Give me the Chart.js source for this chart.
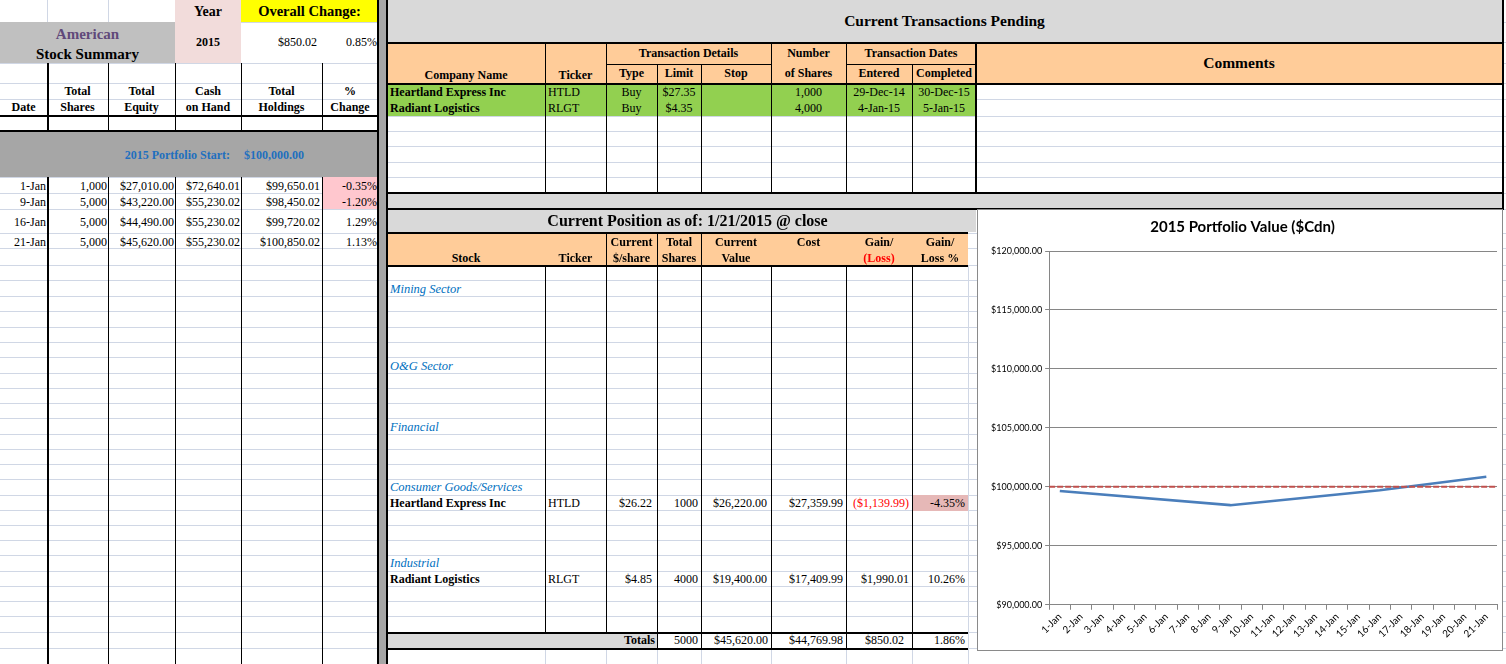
<!DOCTYPE html>
<html>
<head>
<meta charset="utf-8">
<script src="https://cdn.jsdelivr.net/npm/chart.js@4.4.1/dist/chart.umd.min.js"></script>
<style>
  html, body { margin: 0; padding: 0; background: #fff; }
  #sheet { position: relative; width: 1506px; height: 664px; overflow: hidden;
           font-family: "Liberation Serif", "Times New Roman", serif; font-size: 12px; color: #000; }
  .box { position: absolute; box-sizing: border-box; }
  .t { position: absolute; white-space: nowrap; height: 20px; line-height: 20px; }
  .b { font-weight: bold; }
  .h12 { font-size: 12px; font-weight: bold; }
  .sector { font-size: 12.5px; font-style: italic; color: #0070c0; }
  #chartBox { position: absolute; left: 977px; top: 209px; width: 526px; height: 442px;
              box-sizing: border-box; border: 1px solid #8a8a8a; background: #fff; }
</style>
</head>
<body>
<div id="sheet">
  <div id="chartBox"><canvas id="myChart"></canvas></div>
</div>
<script>
'use strict';

// stock summary (left table)
const dates = ['1-Jan', '9-Jan', '16-Jan', '21-Jan'];
const totalShares = [1000, 5000, 5000, 5000];
const totalEquity = [27010.00, 43220.00, 44490.00, 45620.00];
const cashOnHand = [72640.01, 55230.02, 55230.02, 55230.02];
const totalHoldings = [99650.01, 98450.02, 99720.02, 100850.02];
const pctChange = [-0.35, -1.20, 1.29, 1.13];
const portfolioStart = 100000;
const overallChange = 850.02;
const overallPct = 0.85;

// transactions pending
const txCompany = ['Heartland Express Inc', 'Radiant Logistics'];
const txTicker = ['HTLD', 'RLGT'];
const txType = ['Buy', 'Buy'];
const txLimit = [27.35, 4.35];
const txShares = [1000, 4000];
const txEntered = ['29-Dec-14', '4-Jan-15'];
const txCompleted = ['30-Dec-15', '5-Jan-15'];

// current position
const sectors = ['Mining Sector', 'O&G Sector', 'Financial', 'Consumer Goods/Services', 'Industrial'];
const stockNames = ['Heartland Express Inc', 'Radiant Logistics'];
const stockTickers = ['HTLD', 'RLGT'];
const pricePerShare = [26.22, 4.85];
const sharesHeld = [1000, 4000];
const currentValue = [26220.00, 19400.00];
const costBasis = [27359.99, 17409.99];
const gainLoss = [-1139.99, 1990.01];
const gainLossPct = [-4.35, 10.26];
const totalsRow = { shares: 5000, value: 45620.00, cost: 44769.98, gain: 850.02, pct: 1.86 };

// chart axis
const axisDays = ['1-Jan', '2-Jan', '3-Jan', '4-Jan', '5-Jan', '6-Jan', '7-Jan', '8-Jan', '9-Jan', '10-Jan',
  '11-Jan', '12-Jan', '13-Jan', '14-Jan', '15-Jan', '16-Jan', '17-Jan', '18-Jan', '19-Jan', '20-Jan', '21-Jan'];
const yMin = 90000, yMax = 120000, yStep = 5000;

function money(v) {
  return '$' + v.toLocaleString('en-US', { minimumFractionDigits: 2, maximumFractionDigits: 2 });
}
function moneyParen(v) {
  return v < 0 ? '(' + money(-v) + ')' : money(v);
}
function pct(v) { return v.toFixed(2) + '%'; }

const sheet = document.getElementById('sheet');
const chartBox = document.getElementById('chartBox');

function box(x, y, w, h, bg) {
  var d = document.createElement('div');
  d.className = 'box';
  d.style.cssText = 'left:' + x + 'px;top:' + y + 'px;width:' + w + 'px;height:' + h + 'px;background:' + bg;
  sheet.insertBefore(d, chartBox);
  return d;
}
function hline(x1, x2, y, w, c) { return box(x1, y, x2 - x1, w || 1, c || '#000'); }
function vline(x, y1, y2, w, c) { return box(x, y1, w || 1, y2 - y1, c || '#000'); }
function T(str, x1, x2, yc, cls, align, color) {
  var d = document.createElement('div');
  d.className = 't ' + (cls || '');
  d.textContent = str;
  d.style.left = x1 + 'px';
  d.style.width = (x2 - x1) + 'px';
  d.style.top = (yc - 10) + 'px';
  d.style.textAlign = align || 'center';
  if (color) d.style.color = color;
  sheet.appendChild(d);
  return d;
}

// light sheet gridlines
var rowY = [22, 42, 63, 83, 99, 116, 131, 146, 162, 177, 193, 209, 233, 248, 265, 280, 296, 311, 327, 342,
  357, 373, 388, 403, 418, 434, 449, 464, 479, 495, 510, 525, 540, 555, 571, 586, 601, 616, 632, 648];
rowY.forEach(function (y) { hline(0, 1506, y, 1, '#d0d7e5'); });
vline(47, 0, 22, 1, '#d0d7e5');
vline(108, 0, 22, 1, '#d0d7e5');
vline(968, 266, 664, 1, '#d0d7e5');
[545, 606, 657, 701, 771, 846, 912].forEach(function (x) { vline(x, 648, 664, 1, '#d0d7e5'); });

// ---- left: stock summary ----
box(175, 0, 66, 63, '#f2dcdb');
box(241, 0, 137, 22, '#ffff00');
box(0, 22, 175, 41, '#c0c0c0');
box(241, 23, 137, 40, '#fff');
box(0, 132, 378, 45, '#a6a6a6');
var leftRows = [[177, 193], [193, 209], [209, 233], [233, 248]];
pctChange.forEach(function (v, i) {
  if (v < 0) box(322, leftRows[i][0], 56, leftRows[i][1] - leftRows[i][0], '#ffc7ce');
});
vline(47, 63, 131, 2); vline(47, 177, 664, 2);
[108, 175, 241, 322].forEach(function (x) { vline(x, 63, 131); vline(x, 177, 664); });
hline(0, 378, 115, 2);
hline(0, 378, 130, 2);

T('Year', 175, 241, 12, 'b', 'center').style.fontSize = '14px';
T('Overall Change:', 241, 378, 11, 'b', 'center').style.fontSize = '14.5px';
T('American', 0, 175, 34, 'b', 'center', '#60497a').style.fontSize = '15px';
T('Stock Summary', 0, 175, 54, 'b', 'center').style.fontSize = '15px';
T('2015', 175, 241, 42, 'h12');
T(money(overallChange), 241, 317, 42, '', 'right');
T(pct(overallPct), 322, 377, 42, '', 'right');

T('Date', 0, 47, 107, 'h12');
[['Total', 'Shares', 47, 108], ['Total', 'Equity', 108, 175], ['Cash', 'on Hand', 175, 241],
 ['Total', 'Holdings', 241, 322], ['%', 'Change', 322, 378]].forEach(function (h) {
  T(h[0], h[2], h[3], 91, 'h12');
  T(h[1], h[2], h[3], 107, 'h12');
});
T('2015 Portfolio Start:', 110, 230, 155, 'b', 'right', '#1f6fbf');
T(money(portfolioStart), 244, 320, 155, 'b', 'left', '#1f6fbf');

dates.forEach(function (d, i) {
  var yc = (leftRows[i][0] + leftRows[i][1]) / 2 + 1;
  T(d, 0, 46, yc, '', 'right');
  T(totalShares[i].toLocaleString('en-US'), 48, 107, yc, '', 'right');
  T(money(totalEquity[i]), 108, 174, yc, '', 'right');
  T(money(cashOnHand[i]), 175, 240, yc, '', 'right');
  T(money(totalHoldings[i]), 241, 320, yc, '', 'right');
  T(pct(pctChange[i]), 322, 377, yc, '', 'right');
});

// divider
box(379, 0, 8, 664, '#a6a6a6');
vline(377, 0, 664, 2);
vline(386, 0, 664, 2);

// ---- transactions pending ----
box(388, 0, 1114, 42, '#d9d9d9');
box(388, 44, 1114, 39, '#ffcc99');
box(388, 85, 588, 31, '#92d050');
box(388, 194, 1114, 14, '#d9d9d9');
hline(387, 1504, 42, 2);
hline(387, 1504, 83, 2);
hline(387, 1504, 192, 2);
hline(387, 1504, 208, 2);
vline(1502, 0, 209, 2);
[545, 606, 771, 846].forEach(function (x) { vline(x, 43, 192); });
vline(975, 43, 192, 2);
[657, 701, 912].forEach(function (x) { vline(x, 64, 192); });
hline(606, 771, 64);
hline(846, 976, 64);

T('Current Transactions Pending', 387, 1502, 21, 'b').style.fontSize = '15.5px';
T('Company Name', 387, 545, 75, 'h12');
T('Ticker', 545, 606, 75, 'h12');
T('Transaction Details', 606, 771, 53, 'h12');
T('Type', 606, 657, 73, 'h12');
T('Limit', 657, 701, 73, 'h12');
T('Stop', 701, 771, 73, 'h12');
T('Number', 771, 846, 53, 'h12');
T('of Shares', 771, 846, 73, 'h12');
T('Transaction Dates', 846, 976, 53, 'h12');
T('Entered', 846, 912, 73, 'h12');
T('Completed', 912, 976, 73, 'h12');
T('Comments', 976, 1502, 63, 'b').style.fontSize = '15.5px';

txCompany.forEach(function (c, i) {
  var yc = 92 + i * 16;
  T(c, 390, 545, yc, 'b', 'left');
  T(txTicker[i], 548, 606, yc, '', 'left');
  T(txType[i], 606, 657, yc);
  T(money(txLimit[i]), 657, 701, yc);
  T(txShares[i].toLocaleString('en-US'), 771, 846, yc);
  T(txEntered[i], 846, 912, yc);
  T(txCompleted[i], 912, 976, yc);
});

// ---- current position ----
box(388, 210, 588, 22, '#d9d9d9');
box(388, 234, 580, 32, '#ffcc99');
box(388, 634, 269, 14, '#d9d9d9');
hline(387, 968, 232, 2);
hline(387, 968, 265, 2);
hline(387, 968, 632, 2);
hline(387, 968, 648, 2);
[606, 657, 701].forEach(function (x) { vline(x, 233, 266); });
[545, 606, 657, 701, 771, 846, 912].forEach(function (x) { vline(x, 266, 632); });
[657, 701, 771, 846, 912].forEach(function (x) { vline(x, 632, 648); });

T('Current Position as of: 1/21/2015 @ close', 387, 988, 221, 'b').style.fontSize = '16px';
T('Stock', 387, 545, 258, 'h12');
T('Ticker', 545, 606, 258, 'h12');
T('Current', 606, 657, 242, 'h12');
T('$/share', 606, 657, 258, 'h12');
T('Total', 657, 701, 242, 'h12');
T('Shares', 657, 701, 258, 'h12');
T('Current', 701, 771, 242, 'h12');
T('Value', 701, 771, 258, 'h12');
T('Cost', 771, 846, 242, 'h12');
T('Gain/', 846, 912, 242, 'h12');
T('(Loss)', 846, 912, 258, 'h12', 'center', '#ff0000');
T('Gain/', 912, 968, 242, 'h12');
T('Loss %', 912, 968, 258, 'h12');

var sectorY = [289, 366, 427, 487, 563];
sectors.forEach(function (s, i) { T(s, 390, 600, sectorY[i], 'sector', 'left'); });
var stockY = [503, 579];
stockNames.forEach(function (n, i) {
  var yc = stockY[i];
  if (gainLossPct[i] < 0) box(913, yc - 8, 55, 16, '#e6b8b7');
  T(n, 390, 545, yc, 'b', 'left');
  T(stockTickers[i], 548, 606, yc, '', 'left');
  T(money(pricePerShare[i]), 606, 652, yc, '', 'right');
  T(String(sharesHeld[i]), 657, 698, yc, '', 'right');
  T(money(currentValue[i]), 701, 767, yc, '', 'right');
  T(money(costBasis[i]), 771, 843, yc, '', 'right');
  T(moneyParen(gainLoss[i]), 846, 909, yc, '', 'right', gainLoss[i] < 0 ? '#ff0000' : null);
  T(pct(gainLossPct[i]), 912, 965, yc, '', 'right');
});
T('Totals', 387, 655, 640, 'h12', 'right');
T(String(totalsRow.shares), 657, 698, 640, '', 'right');
T(money(totalsRow.value), 701, 768, 640, '', 'right');
T(money(totalsRow.cost), 771, 843, 640, '', 'right');
T(money(totalsRow.gain), 846, 904, 640, '', 'right');
T(pct(totalsRow.pct), 912, 965, 640, '', 'right');

// ---- chart ----
const startLine = {
  id: 'startLine',
  afterDatasetsDraw(chart) {
    const { ctx, chartArea, scales } = chart;
    const y = scales.y.getPixelForValue(portfolioStart);
    ctx.save();
    ctx.strokeStyle = '#c0504d';
    ctx.lineWidth = 2;
    ctx.setLineDash([6, 2]);
    ctx.beginPath();
    ctx.moveTo(chartArea.left, y);
    ctx.lineTo(chartArea.right, y);
    ctx.stroke();
    ctx.restore();
  }
};

new Chart(document.getElementById('myChart'), {
  type: 'line',
  data: {
    labels: axisDays,
    datasets: [{
      label: 'Total Holdings',
      data: dates.map(function (d, i) { return { x: d, y: totalHoldings[i] }; }),
      borderColor: '#4a7ebb',
      borderWidth: 2.5,
      pointRadius: 0,
      tension: 0
    }]
  },
  options: {
    responsive: true,
    maintainAspectRatio: false,
    animation: false,
    layout: { padding: { left: 10, right: 5, top: 0, bottom: 9 } },
    plugins: {
      legend: { display: false },
      tooltip: { enabled: false },
      title: {
        display: true,
        text: '2015 Portfolio Value ($Cdn)',
        color: '#000',
        font: { family: 'Lato', size: 15, weight: 'bold' },
        padding: { top: 8, bottom: 15 }
      }
    },
    scales: {
      x: {
        offset: true,
        grid: { offset: true, drawOnChartArea: false, drawTicks: true, tickLength: 5, color: '#868686' },
        border: { color: '#868686' },
        ticks: { autoSkip: false, maxRotation: 45, minRotation: 45, font: { family: 'Lato', size: 10 }, color: '#000', padding: 1 }
      },
      y: {
        min: yMin,
        max: yMax,
        grid: { color: '#868686', tickLength: 4 },
        border: { color: '#868686' },
        ticks: { stepSize: yStep, font: { family: 'Lato', size: 9 }, color: '#000', padding: 3, callback: function (v) { return money(v); } }
      }
    }
  },
  plugins: [startLine]
});
</script>
</body>
</html>
